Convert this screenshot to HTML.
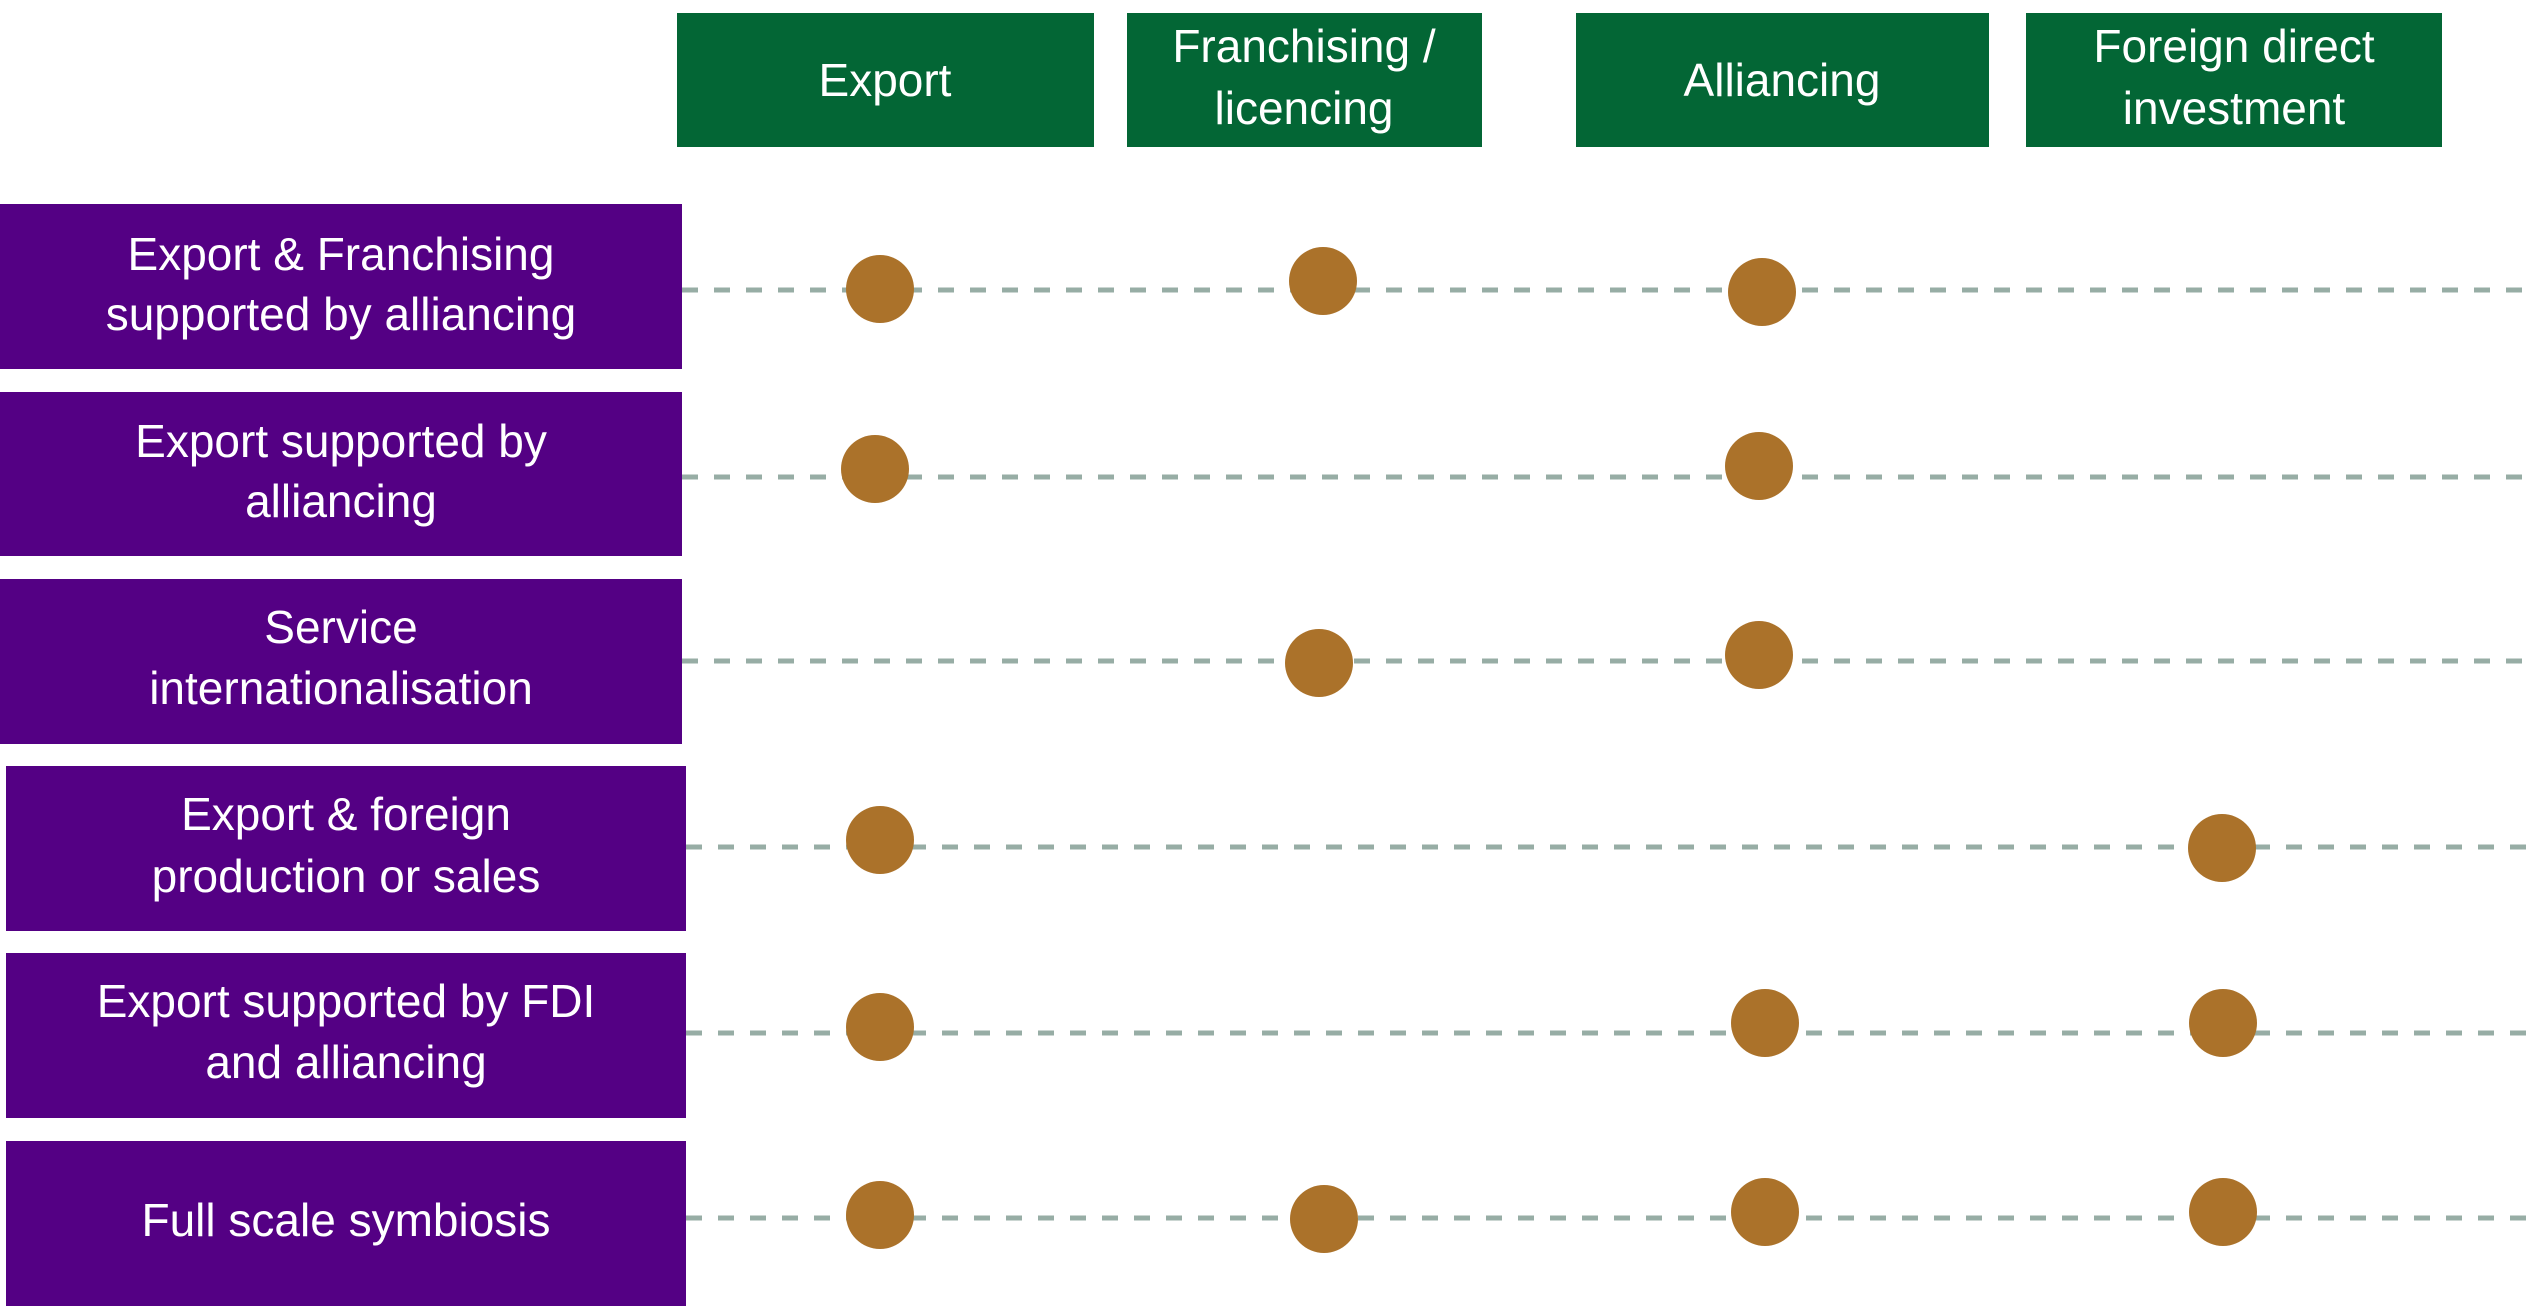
<!DOCTYPE html>
<html><head><meta charset="utf-8"><style>
html,body{margin:0;padding:0;background:#fff;}
svg{display:block}
text{font-family:"Liberation Sans",sans-serif;font-size:46px;fill:#fff;text-anchor:middle;}
</style></head><body>
<svg width="2534" height="1310" viewBox="0 0 2534 1310" xmlns="http://www.w3.org/2000/svg">
<g fill="#036635">
<rect x="677" y="13" width="417" height="134"/>
<rect x="1127" y="13" width="355" height="134"/>
<rect x="1576" y="13" width="413" height="134"/>
<rect x="2026" y="13" width="416" height="134"/>
</g>
<text x="885" y="96">Export</text>
<text x="1304" y="62">Franchising /</text>
<text x="1304" y="124">licencing</text>
<text x="1782" y="96">Alliancing</text>
<text x="2234" y="62">Foreign direct</text>
<text x="2234" y="124">investment</text>

<g stroke="#97ADA5" stroke-width="5" stroke-dasharray="16 16">
<line x1="682" y1="290" x2="2534" y2="290"/>
<line x1="682" y1="477" x2="2534" y2="477"/>
<line x1="682" y1="661" x2="2534" y2="661"/>
<line x1="686" y1="847" x2="2534" y2="847"/>
<line x1="686" y1="1033" x2="2534" y2="1033"/>
<line x1="686" y1="1218" x2="2534" y2="1218"/>
</g>

<g fill="#540084">
<rect x="0" y="204" width="682" height="165"/>
<rect x="0" y="392" width="682" height="164"/>
<rect x="0" y="579" width="682" height="165"/>
<rect x="6" y="766" width="680" height="165"/>
<rect x="6" y="953" width="680" height="165"/>
<rect x="6" y="1141" width="680" height="165"/>
</g>
<text x="341" y="270">Export &amp; Franchising</text>
<text x="341" y="330">supported by alliancing</text>
<text x="341" y="457">Export supported by</text>
<text x="341" y="517">alliancing</text>
<text x="341" y="643">Service</text>
<text x="341" y="704">internationalisation</text>
<text x="346" y="830">Export &amp; foreign</text>
<text x="346" y="892">production or sales</text>
<text x="346" y="1017">Export supported by FDI</text>
<text x="346" y="1078">and alliancing</text>
<text x="346" y="1236">Full scale symbiosis</text>

<g fill="#AB722A">
<circle cx="880" cy="289" r="34"/>
<circle cx="1323" cy="281" r="34"/>
<circle cx="1762" cy="292" r="34"/>
<circle cx="875" cy="469" r="34"/>
<circle cx="1759" cy="466" r="34"/>
<circle cx="1319" cy="663" r="34"/>
<circle cx="1759" cy="655" r="34"/>
<circle cx="880" cy="840" r="34"/>
<circle cx="2222" cy="848" r="34"/>
<circle cx="880" cy="1027" r="34"/>
<circle cx="1765" cy="1023" r="34"/>
<circle cx="2223" cy="1023" r="34"/>
<circle cx="880" cy="1215" r="34"/>
<circle cx="1324" cy="1219" r="34"/>
<circle cx="1765" cy="1212" r="34"/>
<circle cx="2223" cy="1212" r="34"/>
</g>
</svg>
</body></html>
